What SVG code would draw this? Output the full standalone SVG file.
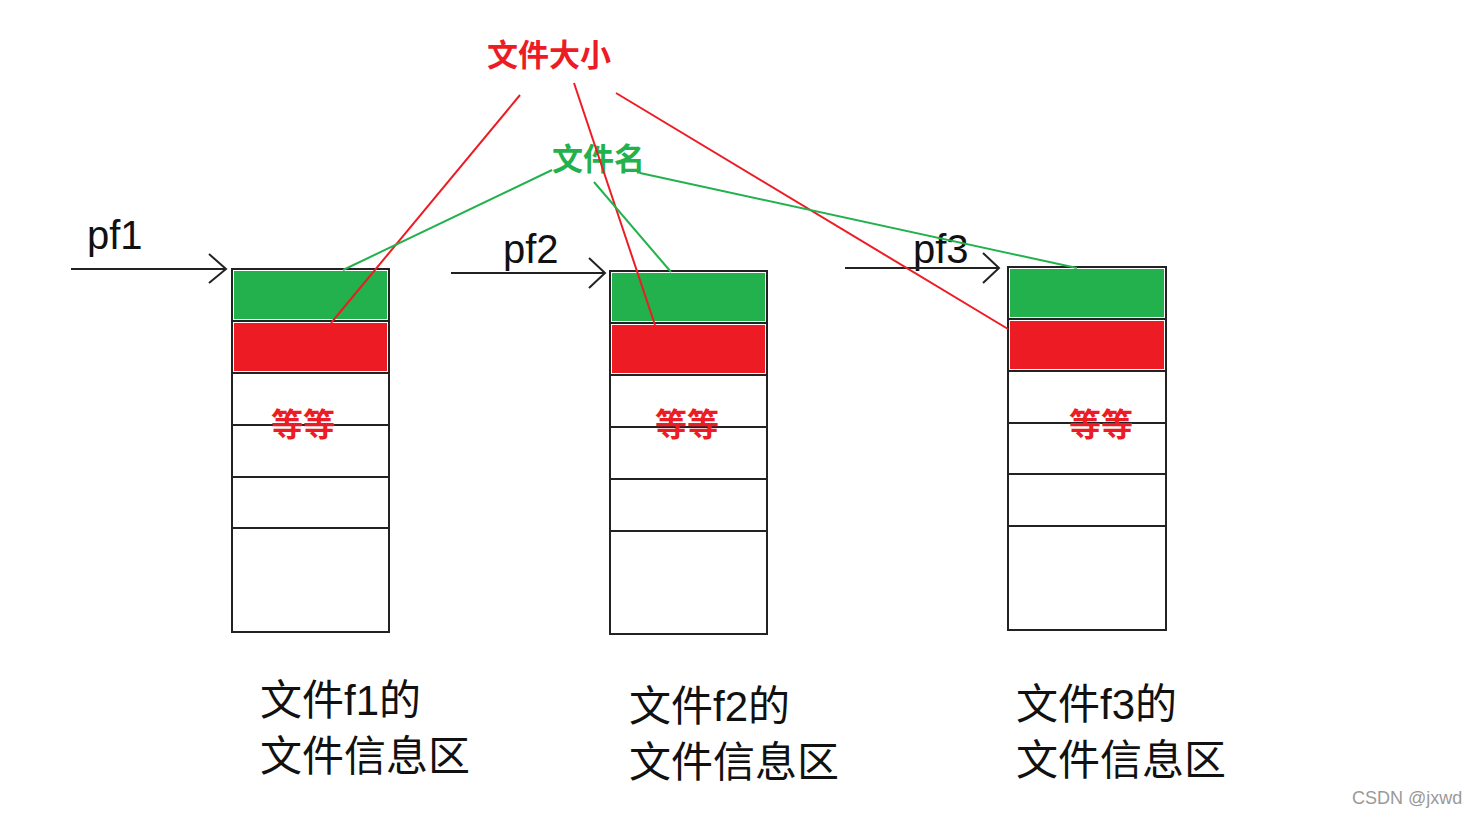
<svg xmlns="http://www.w3.org/2000/svg" width="1475" height="817" viewBox="0 0 1475 817">
<style>
.frame{fill:#fff;stroke:#222;stroke-width:2}
.div{stroke:#222;stroke-width:2}
.g{fill:#22B14C}
.r{fill:#ED1C24}
.etc{font-family:"Noto Sans CJK SC",sans-serif;font-weight:bold;font-size:32px;fill:#ED1C24;text-anchor:middle}
.ptr{font-family:"Liberation Sans",Arial,sans-serif;font-size:40px;fill:#111}
.cap{font-family:"Liberation Sans","Noto Sans CJK SC",sans-serif;font-size:42px;fill:#111}
.rl{stroke:#ED1C24;stroke-width:2;fill:none}
.gl{stroke:#22B14C;stroke-width:2;fill:none}
.ar{stroke:#222;stroke-width:2;fill:none}
.lbl{font-family:"Noto Sans CJK SC",sans-serif;font-weight:bold;font-size:31px}
</style>
<rect width="1475" height="817" fill="#fff"/>
<g id="block1">
<rect class="frame" x="232" y="269" width="157" height="363"/>
<rect class="g" x="234" y="271" width="153" height="48"/>
<rect class="r" x="234" y="323" width="153" height="48"/>
<line class="div" x1="232" y1="321" x2="389" y2="321"/>
<line class="div" x1="232" y1="373" x2="389" y2="373"/>
<line class="div" x1="232" y1="425" x2="389" y2="425"/>
<line class="div" x1="232" y1="477" x2="389" y2="477"/>
<line class="div" x1="232" y1="528" x2="389" y2="528"/>
<text class="etc" x="303" y="436">等等</text>
</g>
<g id="block2">
<rect class="frame" x="610" y="271" width="157" height="363"/>
<rect class="g" x="612" y="273" width="153" height="48"/>
<rect class="r" x="612" y="325" width="153" height="48"/>
<line class="div" x1="610" y1="323" x2="767" y2="323"/>
<line class="div" x1="610" y1="375" x2="767" y2="375"/>
<line class="div" x1="610" y1="427" x2="767" y2="427"/>
<line class="div" x1="610" y1="479" x2="767" y2="479"/>
<line class="div" x1="610" y1="531" x2="767" y2="531"/>
<text class="etc" x="687" y="436">等等</text>
</g>
<g id="block3">
<rect class="frame" x="1008" y="267" width="158" height="363"/>
<rect class="g" x="1010" y="269" width="154" height="48"/>
<rect class="r" x="1010" y="321" width="154" height="48"/>
<line class="div" x1="1008" y1="319" x2="1166" y2="319"/>
<line class="div" x1="1008" y1="371" x2="1166" y2="371"/>
<line class="div" x1="1008" y1="423" x2="1166" y2="423"/>
<line class="div" x1="1008" y1="474" x2="1166" y2="474"/>
<line class="div" x1="1008" y1="526" x2="1166" y2="526"/>
<text class="etc" x="1101" y="436">等等</text>
</g>
<g id="pf1">
<text class="ptr" x="87" y="249">pf1</text>
</g>
<g id="pf2">
<text class="ptr" x="503" y="263">pf2</text>
</g>
<g id="pf3">
<text class="ptr" x="913" y="263">pf3</text>
</g>
<g id="label-size">
<text class="lbl" x="487" y="66" fill="#ED1C24">文件大小</text>
</g>
<g id="label-name">
<text class="lbl" x="552" y="170" fill="#22B14C">文件名</text>
</g>
<g id="connectors">
<line class="ar" x1="71" y1="269" x2="226" y2="269"/>
<polyline class="ar" points="209,254 226,269 209,283"/>
<line class="ar" x1="451" y1="273" x2="605" y2="273"/>
<polyline class="ar" points="589,258 605,273 589,288"/>
<line class="ar" x1="845" y1="268" x2="999" y2="268"/>
<polyline class="ar" points="983,253 999,268 983,283"/>
<line class="rl" x1="520" y1="95" x2="331" y2="323"/>
<line class="rl" x1="574" y1="83" x2="655" y2="325"/>
<line class="rl" x1="616" y1="93" x2="1008" y2="329"/>
<line class="gl" x1="552" y1="170" x2="343" y2="270"/>
<line class="gl" x1="594" y1="182" x2="671" y2="272"/>
<line class="gl" x1="640" y1="173" x2="1077" y2="268"/>
</g>
<g id="caption1">
<text class="cap" x="260" y="715">文件f1的</text>
<text class="cap" x="260" y="771">文件信息区</text>
</g>
<g id="caption2">
<text class="cap" x="629" y="721">文件f2的</text>
<text class="cap" x="629" y="777">文件信息区</text>
</g>
<g id="caption3">
<text class="cap" x="1016" y="719">文件f3的</text>
<text class="cap" x="1016" y="775">文件信息区</text>
</g>
<text x="1352" y="804" font-family="Liberation Sans,Arial,sans-serif" font-size="18" fill="#999">CSDN @jxwd</text>
</svg>
